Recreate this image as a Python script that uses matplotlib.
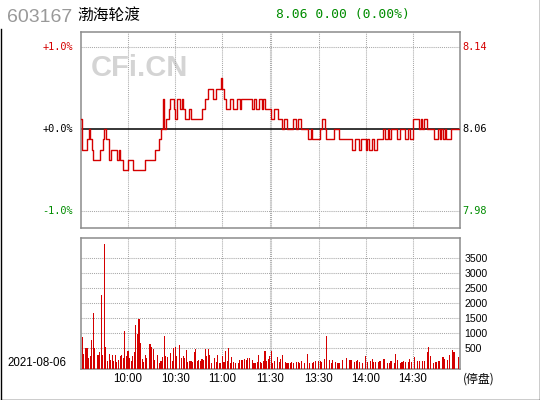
import matplotlib
matplotlib.use('Agg')
import matplotlib.pyplot as plt
import matplotlib.transforms as mtransforms
from matplotlib.lines import Line2D
import numpy as np

# ---------------- data ----------------
code = '603167'
name = '渤海轮渡'
quote = '8.06 0.00 (0.00%)'
date_label = '2021-08-06'
status_label = '(停盘)'
prev_close = 8.06

price = [
    8.07, 8.04, 8.04, 8.04, 8.05, 8.06, 8.05, 8.04, 8.03, 8.03,
    8.03, 8.03, 8.04, 8.04, 8.05, 8.06, 8.05, 8.05, 8.03, 8.04,
    8.04, 8.04, 8.04, 8.03, 8.04, 8.03, 8.03, 8.02, 8.02, 8.02,
    8.03, 8.03, 8.03, 8.02, 8.02, 8.02, 8.02, 8.02, 8.02, 8.02,
    8.02, 8.03, 8.03, 8.03, 8.03, 8.03, 8.03, 8.04, 8.04, 8.04,
    8.05, 8.06, 8.09, 8.06, 8.07, 8.07, 8.08, 8.09, 8.09, 8.08,
    8.07, 8.09, 8.09, 8.08, 8.09, 8.08, 8.07, 8.07, 8.07, 8.08,
    8.07, 8.07, 8.07, 8.07, 8.07, 8.07, 8.07, 8.08, 8.08, 8.09,
    8.09, 8.10, 8.10, 8.10, 8.09, 8.09, 8.10, 8.10, 8.10, 8.11,
    8.10, 8.09, 8.08, 8.08, 8.08, 8.09, 8.09, 8.08, 8.08, 8.09,
    8.09, 8.08, 8.09, 8.09, 8.09, 8.09, 8.09, 8.09, 8.09, 8.08,
    8.09, 8.08, 8.08, 8.09, 8.09, 8.08, 8.09, 8.08, 8.08, 8.08,
    8.08,
    8.07, 8.07, 8.08, 8.08, 8.07, 8.07, 8.07, 8.06, 8.07, 8.07,
    8.06, 8.06, 8.06, 8.06, 8.07, 8.07, 8.06, 8.07, 8.07, 8.06,
    8.06, 8.06, 8.06, 8.05, 8.05, 8.06, 8.05, 8.05, 8.05, 8.05,
    8.05, 8.06, 8.07, 8.07, 8.06, 8.05, 8.05, 8.05, 8.05, 8.05,
    8.06, 8.06, 8.06, 8.05, 8.05, 8.05, 8.05, 8.05, 8.05, 8.05,
    8.05, 8.04, 8.04, 8.05, 8.05, 8.05, 8.04, 8.05, 8.05, 8.05,
    8.04, 8.05, 8.04, 8.04, 8.05, 8.04, 8.04, 8.05, 8.05, 8.05,
    8.05, 8.06, 8.05, 8.05, 8.06, 8.05, 8.06, 8.06, 8.06, 8.06,
    8.05, 8.05, 8.06, 8.06, 8.06, 8.05, 8.05, 8.06, 8.05, 8.05,
    8.07, 8.07, 8.07, 8.07, 8.06, 8.07, 8.06, 8.07, 8.07, 8.06,
    8.06, 8.06, 8.06, 8.05, 8.05, 8.05, 8.06, 8.05, 8.06, 8.05,
    8.06, 8.05, 8.05, 8.05, 8.06, 8.06, 8.06, 8.06, 8.06, 8.06, 8.06,
]

volume = [
    140, 880, 310, 500, 500, 180, 240, 780, 1680, 500,
    0, 280, 380, 2280, 280, 3980, 540, 80, 310, 110,
    280, 80, 280, 40, 110, 240, 280, 180, 1080, 240,
    410, 180, 80, 240, 380, 1280, 980, 1480, 680, 140,
    40, 280, 180, 0, 640, 540, 480, 110, 0, 280,
    10, 80, 210, 910, 240, 210, 0, 340, 80, 510,
    540, 240, 0, 610, 180, 240, 180, 440, 40, 80,
    80, 40, 380, 480, 80, 110, 80, 140, 110, 480,
    240, 480, 280, 10, 0, 180, 40, 280, 10, 10,
    240, 40, 410, 80, 510, 10, 210, 40, 10, 0,
    10, 110, 110, 110, 140, 110, 180, 180, 0, 110,
    10, 10, 40, 280, 40, 10, 80, 410, 80, 140,
    240,
    420, 10, 80, 0, 210, 40, 140, 280, 0, 40,
    10, 10, 10, 40, 10, 0, 40, 40, 10, 80,
    0, 10, 0, 310, 10, 0, 10, 40, 80, 0,
    80, 80, 40, 0, 140, 910, 0, 110, 10, 110,
    0, 40, 10, 10, 0, 110, 0, 0, 180, 0,
    110, 110, 0, 40, 80, 110, 40, 0, 10, 0,
    240, 40, 0, 80, 140, 40, 40, 0, 40, 80,
    0, 140, 140, 0, 10, 10, 80, 0, 10, 310,
    110, 0, 10, 40, 80, 40, 0, 40, 140, 40,
    0, 210, 0, 80, 80, 0, 80, 80, 0, 380,
    540, 240, 0, 10, 40, 40, 80, 80, 0, 210,
    140, 0, 110, 280, 0, 440, 380, 0, 0, 210, 0,
]

time_labels = ['10:00', '10:30', '11:00', '11:30', '13:30', '14:00', '14:30']
time_ticks = [30, 60, 90, 120, 151, 181, 211]
grid_minutes = [30, 60, 90, 120, 121, 151, 181, 211]
pct_levels = [1.0, 0.0, -1.0]
pct_labels = ['+1.0%', '+0.0%', '-1.0%']
vol_ticks = [500, 1000, 1500, 2000, 2500, 3000, 3500]

# ---------------- figure ----------------
W, H = 540, 400
fig = plt.figure(figsize=(W / 100, H / 100), dpi=100)
fig.patch.set_facecolor('white')

def fx(px):
    return px / W

def fy(py):
    return 1 - py / H

L, R = 80.7, 460.3
ax = fig.add_axes([fx(L), fy(228.0), (R - L) / W, (228.0 - 31.7) / H])
ax2 = fig.add_axes([fx(L), fy(369.3), (R - L) / W, (369.3 - 238.3) / H])

minutes = np.arange(len(price))
n = len(price) - 1

GRID = '#a8a8a8'
FRAME = '#8c8c8c'
RED = '#d40000'
GREEN = '#008c00'

# ---- price panel ----
ax.set_xlim(0, n)
ax.set_ylim(prev_close * (1 - 0.01204), prev_close * (1 + 0.0119))
for m in grid_minutes:
    ax.axvline(m, color=GRID, lw=0.75, ls=(0, (1, 1)), zorder=1)
for p in (1.0, -1.0):
    ax.axhline(prev_close * (1 + p / 100), color=GRID, lw=0.75, ls=(0, (1, 1)), zorder=1)
ax.axhline(prev_close, color='black', lw=1.1, zorder=2)
ax.plot(minutes, price, color=RED, lw=1.0, drawstyle='steps-post', zorder=3)
ax.set_xticks([])
ax.set_yticks([])
for s in ax.spines.values():
    s.set_color(FRAME)
    s.set_linewidth(1.1)

ax.text(fx(139), fy(67.5), 'CFi.CN', transform=fig.transFigure, ha='center', va='center',
        fontsize=21, fontweight='bold', family='Liberation Sans', color='#d4d4d4', zorder=0)

tr_left = mtransforms.blended_transform_factory(fig.transFigure, ax.transData)
label_colors = [RED, 'black', GREEN]
for p, lab, c in zip(pct_levels, pct_labels, label_colors):
    yv = prev_close * (1 + p / 100)
    fig.text(fx(72.8), yv, lab, transform=tr_left, ha='right', va='center',
             fontsize=7.4, family='DejaVu Sans Mono', color=c)
    fig.text(fx(462.0), yv, f'{yv:.2f}', transform=tr_left, ha='left', va='center',
             fontsize=7.4, family='DejaVu Sans Mono', color=c)

# ---- volume panel ----
vmin = -200
ax2.set_xlim(0, n)
ax2.set_ylim(vmin, 4167)
for m in grid_minutes:
    ax2.axvline(m, color=GRID, lw=0.75, ls=(0, (1, 1)), zorder=1)
for v in vol_ticks:
    ax2.axhline(v, color=GRID, lw=0.75, ls=(0, (1, 1)), zorder=1)
vol_arr = np.array(volume, dtype=float)
idx = np.nonzero(vol_arr > 0)[0]
ax2.bar(idx, vol_arr[idx] - vmin, bottom=vmin, width=0.7, color=RED, linewidth=0, zorder=3)
for s in ax2.spines.values():
    s.set_color(FRAME)
    s.set_linewidth(1.1)
ax2.set_xticks(time_ticks)
ax2.set_xticklabels(time_labels, family='Liberation Sans', fontsize=8.3)
ax2.tick_params(axis='x', length=0, pad=2.5)
ax2.yaxis.tick_right()
ax2.set_yticks(vol_ticks)
ax2.set_yticklabels([str(v) for v in vol_ticks], family='Liberation Sans', fontsize=7.6)
ax2.tick_params(axis='y', length=0, pad=3)

fig.text(fx(7), fy(363.3), date_label, ha='left', va='center', fontsize=8.3,
         family='Liberation Sans', color='black')
fig.text(fx(463), fy(379.5), status_label, ha='left', va='center', fontsize=8.6,
         family=['Noto Sans CJK SC', 'DejaVu Sans'], color='black')

# ---- header ----
fig.text(fx(7.5), fy(17), code, ha='left', va='center', fontsize=14,
         family='Liberation Sans', color='#999999')
fig.text(fx(77), fy(15.5), name, ha='left', va='center', fontsize=11.3,
         family=['Noto Sans CJK SC', 'DejaVu Sans'], color='black')
fig.text(fx(276), fy(14.8), quote, ha='left', va='center', fontsize=9.4,
         family='DejaVu Sans Mono', color=GREEN)

# ---- outer border ----
bw = 1.0
fig.add_artist(Line2D([fx(0.5), fx(0.5)], [fy(29), fy(399.5)], color='black', lw=bw,
                      transform=fig.transFigure))
fig.add_artist(Line2D([fx(0.5), fx(539.5)], [fy(399.5), fy(399.5)], color='black', lw=bw,
                      transform=fig.transFigure))
fig.add_artist(Line2D([fx(539.5), fx(539.5)], [fy(0), fy(399.5)], color='black', lw=bw,
                      transform=fig.transFigure))

fig.savefig('out.png', dpi=100, facecolor='white')
